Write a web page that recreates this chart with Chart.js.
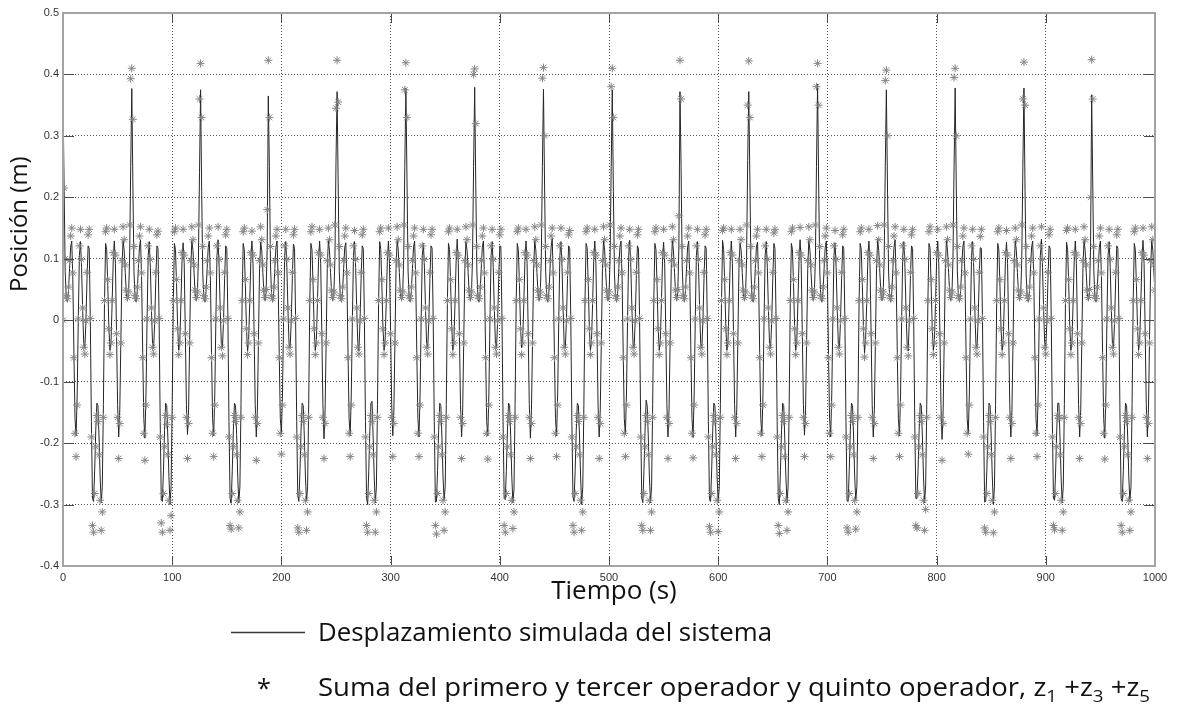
<!DOCTYPE html>
<html>
<head>
<meta charset="utf-8">
<script src="https://cdn.jsdelivr.net/npm/chart.js@4.4.1/dist/chart.umd.min.js"></script>
<style>
html,body{margin:0;padding:0;background:#ffffff;}
#wrap{position:relative;width:1179px;height:710px;}
canvas{display:block;}
</style>
</head>
<body>
<div id="wrap"><canvas id="c" width="1179" height="710"></canvas></div>
<script>
// ---- tick labels ----
const xTicks = [0,100,200,300,400,500,600,700,800,900,1000];
const xTickLabels = ['0','100','200','300','400','500','600','700','800','900','1000'];
const yTicks = [-0.4,-0.3,-0.2,-0.1,0,0.1,0.2,0.3,0.4,0.5];
const yTickLabels = ['-0.4','-0.3','-0.2','-0.1','0','0.1','0.2','0.3','0.4','0.5'];

// ---- texts ----
const xAxisTitle = 'Tiempo (s)';
const yAxisTitle = 'Posición (m)';
const legendLineText = 'Desplazamiento simulada del sistema';
const legendStarParts = [
  ['Suma del primero y tercer operador y quinto operador, z', false],
  ['1', true], [' +z', false], ['3', true], [' +z', false], ['5', true]
];

// ---- sampling of both series (seconds) ----
const timeStart = 0;
const timeStep = 1;

// ---- simulated displacement (m), one value per second, one row per ~62.8 s cycle ----
const displacement = [
0.36,0.22,0.08,0.035,0.03,0.047,0.084,0.119,0.129,0.067,-0.053,-0.16,-0.188,-0.12,0.002,0.105,0.128,0.086,0.017,-0.038,-0.046,-0.001,0.068,0.121,0.117,0.003,-0.165,-0.29,-0.295,-0.245,-0.179,-0.135,-0.139,-0.19,-0.255,-0.297,-0.271,-0.137,0.028,0.125,0.115,0.057,-0.012,-0.049,-0.032,0.028,0.096,0.129,0.092,-0.019,-0.137,-0.19,-0.146,-0.032,0.084,0.13,0.114,0.078,0.043,0.032,0.04,0.10,0.25,
0.377,0.22,0.08,0.035,0.03,0.047,0.084,0.119,0.131,0.067,-0.053,-0.16,-0.192,-0.12,0.002,0.105,0.128,0.086,0.017,-0.038,-0.046,-0.001,0.068,0.121,0.117,0.003,-0.165,-0.293,-0.295,-0.245,-0.179,-0.135,-0.139,-0.19,-0.255,-0.3,-0.271,-0.137,0.028,0.125,0.115,0.057,-0.012,-0.049,-0.032,0.028,0.096,0.126,0.092,-0.019,-0.137,-0.186,-0.146,-0.032,0.084,0.13,0.114,0.078,0.043,0.032,0.04,0.10,0.24,
0.375,0.21,0.075,0.035,0.03,0.047,0.084,0.119,0.129,0.067,-0.053,-0.16,-0.188,-0.12,0.002,0.105,0.131,0.086,0.017,-0.038,-0.046,-0.001,0.068,0.121,0.117,0.003,-0.165,-0.29,-0.298,-0.245,-0.179,-0.135,-0.139,-0.186,-0.255,-0.297,-0.271,-0.137,0.028,0.125,0.115,0.057,-0.012,-0.052,-0.032,0.028,0.096,0.129,0.092,-0.019,-0.137,-0.19,-0.146,-0.032,0.084,0.127,0.114,0.078,0.043,0.032,0.045,0.12,
0.365,0.25,0.09,0.04,0.03,0.047,0.084,0.119,0.129,0.067,-0.053,-0.16,-0.183,-0.12,0.002,0.105,0.128,0.086,0.017,-0.038,-0.046,-0.001,0.068,0.124,0.117,0.003,-0.165,-0.285,-0.295,-0.245,-0.179,-0.135,-0.139,-0.19,-0.255,-0.294,-0.271,-0.137,0.028,0.125,0.115,0.057,-0.012,-0.049,-0.032,0.028,0.096,0.129,0.092,-0.019,-0.137,-0.193,-0.146,-0.032,0.084,0.13,0.114,0.078,0.043,0.032,0.04,0.10,0.26,
0.372,0.22,0.08,0.035,0.03,0.047,0.084,0.119,0.126,0.067,-0.053,-0.16,-0.188,-0.12,0.002,0.105,0.128,0.086,0.017,-0.038,-0.05,-0.001,0.068,0.121,0.117,0.003,-0.165,-0.29,-0.3,-0.245,-0.179,-0.135,-0.132,-0.19,-0.255,-0.297,-0.271,-0.137,0.028,0.128,0.115,0.057,-0.012,-0.049,-0.032,0.028,0.096,0.129,0.092,-0.019,-0.137,-0.188,-0.146,-0.032,0.084,0.13,0.114,0.078,0.043,0.032,0.04,0.10,0.25,
0.378,0.23,0.08,0.035,0.03,0.047,0.084,0.119,0.129,0.067,-0.053,-0.16,-0.19,-0.12,0.002,0.105,0.125,0.086,0.017,-0.038,-0.046,-0.001,0.068,0.121,0.117,0.003,-0.165,-0.296,-0.295,-0.245,-0.179,-0.135,-0.139,-0.19,-0.255,-0.292,-0.271,-0.137,0.028,0.125,0.115,0.057,-0.012,-0.049,-0.032,0.028,0.096,0.132,0.092,-0.019,-0.137,-0.19,-0.146,-0.032,0.084,0.128,0.114,0.078,0.043,0.032,0.04,0.10,0.25,
0.379,0.22,0.08,0.035,0.03,0.047,0.084,0.119,0.129,0.067,-0.053,-0.165,-0.188,-0.12,0.002,0.105,0.128,0.086,0.017,-0.038,-0.046,-0.001,0.068,0.121,0.12,0.003,-0.165,-0.29,-0.292,-0.245,-0.179,-0.135,-0.139,-0.19,-0.255,-0.297,-0.276,-0.137,0.028,0.125,0.115,0.057,-0.012,-0.045,-0.032,0.028,0.096,0.129,0.092,-0.019,-0.137,-0.192,-0.146,-0.032,0.084,0.13,0.114,0.078,0.043,0.032,0.04,0.10,0.25,
0.376,0.22,0.08,0.035,0.03,0.047,0.084,0.119,0.133,0.067,-0.053,-0.16,-0.188,-0.12,0.002,0.105,0.128,0.086,0.017,-0.042,-0.046,-0.001,0.068,0.121,0.117,0.003,-0.165,-0.288,-0.295,-0.245,-0.179,-0.135,-0.139,-0.19,-0.255,-0.3,-0.271,-0.137,0.028,0.125,0.118,0.057,-0.012,-0.049,-0.032,0.028,0.096,0.129,0.092,-0.019,-0.14,-0.19,-0.146,-0.032,0.084,0.13,0.114,0.078,0.043,0.032,0.04,0.10,0.25,
0.375,0.21,0.075,0.035,0.03,0.047,0.084,0.119,0.129,0.067,-0.053,-0.16,-0.186,-0.12,0.002,0.105,0.13,0.086,0.017,-0.038,-0.046,-0.001,0.068,0.121,0.117,0.003,-0.165,-0.29,-0.297,-0.245,-0.179,-0.13,-0.139,-0.19,-0.255,-0.297,-0.271,-0.137,0.028,0.125,0.115,0.057,-0.012,-0.049,-0.032,0.028,0.096,0.127,0.092,-0.019,-0.137,-0.19,-0.146,-0.032,0.084,0.13,0.114,0.078,0.043,0.032,0.045,0.12,
0.372,0.25,0.09,0.04,0.03,0.047,0.084,0.119,0.129,0.067,-0.053,-0.16,-0.191,-0.12,0.002,0.105,0.128,0.086,0.017,-0.038,-0.046,-0.001,0.068,0.121,0.117,0.003,-0.165,-0.292,-0.295,-0.245,-0.179,-0.135,-0.139,-0.19,-0.255,-0.296,-0.271,-0.137,0.028,0.13,0.115,0.057,-0.012,-0.049,-0.032,0.028,0.096,0.129,0.092,-0.019,-0.137,-0.19,-0.146,-0.032,0.084,0.126,0.114,0.078,0.043,0.032,0.04,0.10,0.26,
0.372,0.23,0.08,0.035,0.03,0.047,0.084,0.119,0.127,0.067,-0.053,-0.16,-0.188,-0.12,0.002,0.105,0.128,0.086,0.017,-0.038,-0.046,-0.001,0.068,0.125,0.117,0.003,-0.165,-0.29,-0.3,-0.245,-0.179,-0.135,-0.139,-0.195,-0.255,-0.297,-0.271,-0.137,0.028,0.125,0.115,0.057,-0.012,-0.049,-0.032,0.028,0.096,0.131,0.092,-0.019,-0.137,-0.187,-0.146,-0.032,0.084,0.13,0.114,0.078,0.043,0.032,0.04,0.10,0.25,
0.384,0.22,0.08,0.035,0.03,0.047,0.084,0.119,0.129,0.067,-0.053,-0.16,-0.19,-0.12,0.002,0.105,0.126,0.086,0.017,-0.038,-0.046,-0.001,0.068,0.121,0.117,0.003,-0.165,-0.294,-0.295,-0.245,-0.179,-0.135,-0.139,-0.19,-0.255,-0.293,-0.271,-0.137,0.028,0.125,0.115,0.057,-0.012,-0.053,-0.032,0.028,0.096,0.129,0.092,-0.019,-0.137,-0.19,-0.146,-0.032,0.084,0.132,0.114,0.078,0.043,0.032,0.04,0.10,0.25,
0.375,0.22,0.08,0.035,0.03,0.047,0.084,0.119,0.131,0.067,-0.053,-0.16,-0.188,-0.12,0.002,0.105,0.128,0.086,0.017,-0.038,-0.05,-0.001,0.068,0.121,0.117,0.003,-0.165,-0.29,-0.29,-0.245,-0.179,-0.135,-0.139,-0.19,-0.255,-0.297,-0.268,-0.137,0.028,0.125,0.118,0.057,-0.012,-0.049,-0.032,0.028,0.096,0.129,0.092,-0.019,-0.137,-0.194,-0.146,-0.032,0.084,0.13,0.114,0.078,0.043,0.032,0.04,0.10,0.25,
0.378,0.22,0.08,0.035,0.03,0.047,0.084,0.119,0.129,0.067,-0.053,-0.16,-0.185,-0.12,0.002,0.105,0.128,0.086,0.017,-0.038,-0.046,-0.001,0.068,0.118,0.117,0.003,-0.165,-0.296,-0.295,-0.245,-0.179,-0.135,-0.139,-0.19,-0.255,-0.299,-0.271,-0.137,0.028,0.125,0.115,0.057,-0.012,-0.049,-0.032,0.028,0.096,0.127,0.092,-0.019,-0.137,-0.19,-0.146,-0.032,0.084,0.129,0.114,0.078,0.043,0.032,0.04,0.10,0.25,
0.378,0.21,0.075,0.035,0.03,0.047,0.084,0.119,0.129,0.067,-0.053,-0.16,-0.188,-0.12,0.002,0.105,0.132,0.086,0.017,-0.038,-0.046,-0.001,0.068,0.121,0.117,0.003,-0.165,-0.29,-0.293,-0.245,-0.179,-0.135,-0.135,-0.19,-0.255,-0.297,-0.271,-0.137,0.028,0.127,0.115,0.057,-0.012,-0.049,-0.032,0.028,0.096,0.129,0.092,-0.019,-0.137,-0.19,-0.146,-0.032,0.084,0.13,0.114,0.078,0.043,0.032,0.045,0.12,
0.367,0.22,0.08,0.035,0.03,0.047,0.084,0.119,0.129,0.067,-0.053,-0.16,-0.192,-0.12,0.002,0.105,0.128,0.086,0.017,-0.038,-0.046,-0.001,0.068,0.121,0.117,0.003,-0.165,-0.29,-0.295,-0.245,-0.179,-0.135,-0.139,-0.19,-0.255,-0.295,-0.271,-0.137,0.028,0.125,0.115,0.057,-0.012,-0.049,-0.032,0.028,0.096,0.13,0.092,-0.019,-0.137,-0.19,-0.146,-0.032,0.084,0.13,0.114,0.078,0.043
];

// ---- sum of 1st, 3rd and 5th operator, z1+z3+z5 (m), same sampling ----
const operatorSum = [
0,0.215,0.10,0.04,0.035,0.054,0.097,0.137,0.15,0.077,-0.061,-0.184,-0.222,-0.138,0.002,0.121,0.148,0.099,0.02,-0.044,-0.055,-0.001,0.078,0.139,0.148,0.003,-0.19,-0.334,-0.345,-0.282,-0.206,-0.155,-0.165,-0.219,-0.293,-0.342,-0.312,-0.158,0.032,0.144,0.15,0.066,-0.014,-0.056,-0.037,0.032,0.11,0.148,0.106,-0.022,-0.158,-0.225,-0.168,-0.037,0.097,0.152,0.131,0.09,0.049,0.037,0.046,0.155,0.393,
0.41,0.327,0.12,0.04,0.035,0.054,0.097,0.137,0.152,0.077,-0.061,-0.184,-0.228,-0.138,0.002,0.121,0.148,0.099,0.02,-0.044,-0.055,-0.001,0.078,0.139,0.145,0.003,-0.19,-0.33,-0.345,-0.282,-0.206,-0.155,-0.17,-0.219,-0.293,-0.342,-0.318,-0.158,0.032,0.144,0.15,0.066,-0.014,-0.056,-0.037,0.032,0.11,0.148,0.106,-0.022,-0.158,-0.225,-0.168,-0.037,0.097,0.152,0.131,0.09,0.049,0.037,0.046,0.155,0.36,
0.418,0.33,0.12,0.04,0.035,0.054,0.097,0.137,0.15,0.077,-0.061,-0.184,-0.222,-0.138,0.002,0.121,0.152,0.099,0.02,-0.044,-0.058,-0.001,0.078,0.139,0.148,0.003,-0.19,-0.334,-0.34,-0.282,-0.206,-0.155,-0.165,-0.219,-0.293,-0.338,-0.312,-0.158,0.032,0.144,0.15,0.066,-0.014,-0.056,-0.037,0.032,0.11,0.145,0.106,-0.022,-0.158,-0.228,-0.168,-0.037,0.097,0.152,0.131,0.09,0.049,0.037,0.05,0.18,
0.423,0.33,0.12,0.04,0.035,0.054,0.097,0.137,0.148,0.077,-0.061,-0.184,-0.218,-0.138,0.002,0.121,0.148,0.099,0.02,-0.044,-0.055,-0.001,0.078,0.139,0.148,0.003,-0.19,-0.338,-0.345,-0.282,-0.206,-0.155,-0.165,-0.219,-0.293,-0.342,-0.312,-0.158,0.032,0.144,0.152,0.066,-0.014,-0.056,-0.037,0.032,0.11,0.148,0.106,-0.022,-0.158,-0.225,-0.168,-0.037,0.097,0.15,0.131,0.09,0.049,0.037,0.046,0.155,0.345,
0.423,0.355,0.12,0.04,0.035,0.054,0.097,0.137,0.15,0.077,-0.061,-0.184,-0.222,-0.138,0.002,0.121,0.146,0.099,0.02,-0.044,-0.055,-0.001,0.078,0.139,0.148,0.003,-0.19,-0.334,-0.345,-0.282,-0.206,-0.155,-0.165,-0.219,-0.293,-0.345,-0.312,-0.158,0.032,0.144,0.15,0.066,-0.014,-0.056,-0.037,0.032,0.11,0.15,0.106,-0.022,-0.158,-0.222,-0.168,-0.037,0.097,0.152,0.131,0.09,0.049,0.037,0.046,0.155,0.375,
0.419,0.33,0.12,0.04,0.035,0.054,0.097,0.137,0.15,0.077,-0.061,-0.184,-0.222,-0.138,0.002,0.121,0.148,0.099,0.02,-0.044,-0.055,-0.001,0.078,0.139,0.148,0.003,-0.19,-0.334,-0.348,-0.282,-0.206,-0.155,-0.165,-0.219,-0.293,-0.342,-0.312,-0.158,0.032,0.144,0.15,0.066,-0.014,-0.056,-0.037,0.032,0.11,0.148,0.106,-0.022,-0.158,-0.225,-0.168,-0.037,0.097,0.152,0.131,0.09,0.049,0.037,0.046,0.155,0.40,
0.409,0.32,0.12,0.04,0.035,0.054,0.097,0.137,0.15,0.077,-0.061,-0.184,-0.226,-0.138,0.002,0.121,0.148,0.099,0.02,-0.044,-0.055,-0.001,0.078,0.139,0.148,0.003,-0.19,-0.334,-0.345,-0.282,-0.206,-0.155,-0.165,-0.219,-0.293,-0.339,-0.312,-0.158,0.032,0.144,0.15,0.066,-0.014,-0.056,-0.037,0.032,0.11,0.148,0.106,-0.022,-0.158,-0.225,-0.168,-0.037,0.097,0.152,0.131,0.09,0.049,0.037,0.046,0.155,0.394,
0.411,0.30,0.12,0.04,0.035,0.054,0.097,0.137,0.15,0.077,-0.061,-0.184,-0.222,-0.138,0.002,0.121,0.15,0.099,0.02,-0.044,-0.055,-0.001,0.078,0.139,0.146,0.003,-0.19,-0.334,-0.345,-0.282,-0.206,-0.155,-0.165,-0.219,-0.293,-0.342,-0.312,-0.158,0.032,0.144,0.15,0.066,-0.014,-0.056,-0.037,0.032,0.11,0.148,0.106,-0.022,-0.158,-0.225,-0.168,-0.037,0.097,0.152,0.131,0.09,0.049,0.037,0.046,0.155,0.38,
0.41,0.33,0.12,0.04,0.035,0.054,0.097,0.137,0.15,0.077,-0.061,-0.184,-0.222,-0.138,0.002,0.121,0.148,0.099,0.02,-0.044,-0.055,-0.001,0.078,0.139,0.148,0.003,-0.19,-0.334,-0.342,-0.282,-0.206,-0.155,-0.165,-0.219,-0.293,-0.342,-0.312,-0.158,0.032,0.144,0.15,0.066,-0.014,-0.056,-0.037,0.032,0.11,0.148,0.106,-0.022,-0.158,-0.225,-0.168,-0.037,0.097,0.152,0.131,0.09,0.049,0.037,0.05,0.17,
0.423,0.36,0.12,0.04,0.035,0.054,0.097,0.137,0.15,0.077,-0.061,-0.184,-0.224,-0.138,0.002,0.121,0.148,0.099,0.02,-0.044,-0.055,-0.001,0.078,0.139,0.148,0.003,-0.19,-0.336,-0.345,-0.282,-0.206,-0.155,-0.165,-0.219,-0.293,-0.344,-0.312,-0.158,0.032,0.146,0.15,0.066,-0.014,-0.056,-0.037,0.032,0.11,0.148,0.106,-0.022,-0.158,-0.225,-0.168,-0.037,0.097,0.148,0.131,0.09,0.049,0.037,0.046,0.155,0.35,
0.422,0.33,0.12,0.04,0.035,0.054,0.097,0.137,0.148,0.077,-0.061,-0.184,-0.222,-0.138,0.002,0.121,0.148,0.099,0.02,-0.044,-0.055,-0.001,0.078,0.142,0.148,0.003,-0.19,-0.334,-0.347,-0.282,-0.206,-0.155,-0.165,-0.222,-0.293,-0.342,-0.312,-0.158,0.032,0.144,0.15,0.066,-0.014,-0.056,-0.037,0.032,0.11,0.151,0.106,-0.022,-0.158,-0.222,-0.168,-0.037,0.097,0.152,0.131,0.09,0.049,0.037,0.046,0.155,0.38,
0.418,0.35,0.12,0.04,0.035,0.054,0.097,0.137,0.15,0.077,-0.061,-0.184,-0.222,-0.138,0.002,0.121,0.146,0.099,0.02,-0.044,-0.055,-0.001,0.078,0.139,0.148,0.003,-0.19,-0.338,-0.345,-0.282,-0.206,-0.155,-0.165,-0.219,-0.293,-0.34,-0.312,-0.158,0.032,0.144,0.15,0.066,-0.014,-0.06,-0.037,0.032,0.11,0.148,0.106,-0.022,-0.158,-0.225,-0.168,-0.037,0.097,0.154,0.131,0.09,0.049,0.037,0.046,0.155,0.39,
0.407,0.30,0.12,0.04,0.035,0.054,0.097,0.137,0.152,0.077,-0.061,-0.184,-0.222,-0.138,0.002,0.121,0.148,0.099,0.02,-0.044,-0.058,-0.001,0.078,0.139,0.148,0.003,-0.19,-0.334,-0.338,-0.282,-0.206,-0.155,-0.165,-0.219,-0.293,-0.342,-0.308,-0.158,0.032,0.144,0.152,0.066,-0.014,-0.056,-0.037,0.032,0.11,0.148,0.106,-0.022,-0.158,-0.228,-0.168,-0.037,0.097,0.152,0.131,0.09,0.049,0.037,0.046,0.155,0.395,
0.41,0.30,0.12,0.04,0.035,0.054,0.097,0.137,0.15,0.077,-0.061,-0.184,-0.218,-0.138,0.002,0.121,0.148,0.099,0.02,-0.044,-0.055,-0.001,0.078,0.136,0.148,0.003,-0.19,-0.338,-0.345,-0.282,-0.206,-0.155,-0.165,-0.219,-0.293,-0.346,-0.312,-0.158,0.032,0.144,0.15,0.066,-0.014,-0.056,-0.037,0.032,0.11,0.146,0.106,-0.022,-0.158,-0.225,-0.168,-0.037,0.097,0.15,0.131,0.09,0.049,0.037,0.046,0.155,0.36,
0.42,0.35,0.12,0.04,0.035,0.054,0.097,0.137,0.15,0.077,-0.061,-0.184,-0.222,-0.138,0.002,0.121,0.152,0.099,0.02,-0.044,-0.055,-0.001,0.078,0.139,0.148,0.003,-0.19,-0.334,-0.341,-0.282,-0.206,-0.155,-0.16,-0.219,-0.293,-0.342,-0.312,-0.158,0.032,0.146,0.15,0.066,-0.014,-0.056,-0.037,0.032,0.11,0.148,0.106,-0.022,-0.158,-0.225,-0.168,-0.037,0.097,0.152,0.131,0.09,0.049,0.037,0.05,0.2,
0.424,0.36,0.12,0.04,0.035,0.054,0.097,0.137,0.15,0.077,-0.061,-0.184,-0.226,-0.138,0.002,0.121,0.148,0.099,0.02,-0.044,-0.055,-0.001,0.078,0.139,0.148,0.003,-0.19,-0.334,-0.345,-0.282,-0.206,-0.155,-0.165,-0.219,-0.293,-0.342,-0.312,-0.158,0.032,0.144,0.15,0.066,-0.014,-0.056,-0.037,0.032,0.11,0.15,0.106,-0.022,-0.158,-0.225,-0.168,-0.037,0.097,0.152,0.131,0.09,0.049
];

// ---- build datasets from the arrays ----
const linePoints = displacement.map((v, i) => ({ x: timeStart + i * timeStep, y: v }));
const starPoints = operatorSum.map((v, i) => ({ x: timeStart + i * timeStep, y: v }));

// draw a run of text stretched horizontally so that it spans [x0, x1]
function fillStretched(ctx, parts, x0, x1, baseY, size) {
  const subSize = Math.round(size * 0.68);
  let w = 0;
  parts.forEach(([t, sub]) => {
    ctx.font = (sub ? subSize : size) + 'px "Open Sans"';
    w += ctx.measureText(t).width;
  });
  const sx = (x1 - x0) / w;
  ctx.save();
  ctx.translate(x0, baseY);
  ctx.scale(sx, 1);
  let xx = 0;
  parts.forEach(([t, sub]) => {
    ctx.font = (sub ? subSize : size) + 'px "Open Sans"';
    ctx.fillText(t, xx, sub ? size * 0.24 : 0);
    xx += ctx.measureText(t).width;
  });
  ctx.restore();
}

const matlabFrame = {
  id: 'matlabFrame',
  afterDatasetsDraw(chart) {
    const { ctx, chartArea: a, scales } = chart;
    const xs = scales.x, ys = scales.y;
    ctx.save();
    ctx.strokeStyle = '#4a4a4a';
    ctx.lineWidth = 1;
    ctx.beginPath();
    yTicks.forEach(v => {
      const py = Math.round(ys.getPixelForValue(v)) + 0.5;
      ctx.moveTo(a.left, py); ctx.lineTo(a.left + 11, py);
      ctx.moveTo(a.right, py); ctx.lineTo(a.right - 11, py);
    });
    xTicks.forEach(v => {
      const px = Math.round(xs.getPixelForValue(v)) + 0.5;
      ctx.moveTo(px, a.bottom); ctx.lineTo(px, a.bottom - 10);
      ctx.moveTo(px, a.top); ctx.lineTo(px, a.top + 10);
    });
    ctx.stroke();
    ctx.strokeStyle = '#a3a3a3';
    ctx.lineWidth = 2;
    ctx.strokeRect(a.left, a.top, a.right - a.left, a.bottom - a.top);
    ctx.restore();
  },
  afterDraw(chart) {
    const ctx = chart.ctx;
    ctx.save();
    ctx.fillStyle = '#111111';
    ctx.textBaseline = 'alphabetic';
    // x axis title
    ctx.font = '26px "Open Sans"';
    ctx.textAlign = 'center';
    ctx.fillText(xAxisTitle, 614, 599);
    // y axis title
    ctx.save();
    ctx.translate(27, 292);
    ctx.rotate(-Math.PI / 2);
    ctx.textAlign = 'left';
    ctx.font = '24px "Open Sans"';
    ctx.fillText(yAxisTitle, 0, 0);
    ctx.restore();
    // legend: line entry
    ctx.strokeStyle = '#3a3a3a';
    ctx.lineWidth = 1.5;
    ctx.beginPath();
    ctx.moveTo(231, 632.5); ctx.lineTo(305, 632.5);
    ctx.stroke();
    ctx.textAlign = 'left';
    fillStretched(ctx, [[legendLineText, false]], 318, 772, 641, 25);
    // legend: star entry
    ctx.font = '25px "Open Sans"';
    ctx.fillText('*', 257, 697);
    fillStretched(ctx, legendStarParts, 318, 1150, 696, 25);
    ctx.restore();
  }
};

new Chart(document.getElementById('c').getContext('2d'), {
  type: 'line',
  data: {
    datasets: [
      {
        label: legendLineText,
        data: linePoints,
        borderColor: '#262626',
        borderWidth: 1,
        pointRadius: 0,
        fill: false,
        tension: 0,
        order: 1
      },
      {
        label: 'Suma del primero y tercer operador y quinto operador, z1 +z3 +z5',
        data: starPoints,
        showLine: false,
        pointStyle: 'star',
        pointRadius: 4,
        pointBorderWidth: 1,
        pointBorderColor: '#858585',
        pointBackgroundColor: 'rgba(0,0,0,0)',
        order: 0
      }
    ]
  },
  options: {
    responsive: false,
    animation: false,
    devicePixelRatio: 1,
    layout: { padding: { left: 0, right: 24, top: 13, bottom: 0 } },
    plugins: { legend: { display: false }, tooltip: { enabled: false }, title: { display: false } },
    scales: {
      x: {
        type: 'linear',
        min: 0, max: 1000,
        afterBuildTicks: s => { s.ticks = xTicks.map(v => ({ value: v })); },
        afterFit: s => { s.height = 144; },
        ticks: { color: '#333333', font: { family: '"Liberation Sans", Arial, sans-serif', size: 11 }, padding: 5, maxRotation: 0, autoSkip: false,
                 callback: (v, i) => xTickLabels[i] },
        grid: { color: '#555555', lineWidth: 1, drawTicks: false },
        border: { display: false, dash: [1, 2] }
      },
      y: {
        type: 'linear',
        min: -0.4, max: 0.5,
        afterBuildTicks: s => { s.ticks = yTicks.map(v => ({ value: v })); },
        afterFit: s => { s.width = 63; },
        ticks: { color: '#333333', font: { family: '"Liberation Sans", Arial, sans-serif', size: 11 }, padding: 4, autoSkip: false,
                 callback: (v, i) => yTickLabels[i] },
        grid: { color: '#555555', lineWidth: 1, drawTicks: false },
        border: { display: false, dash: [1, 2] }
      }
    }
  },
  plugins: [matlabFrame]
});
</script>
</body>
</html>
